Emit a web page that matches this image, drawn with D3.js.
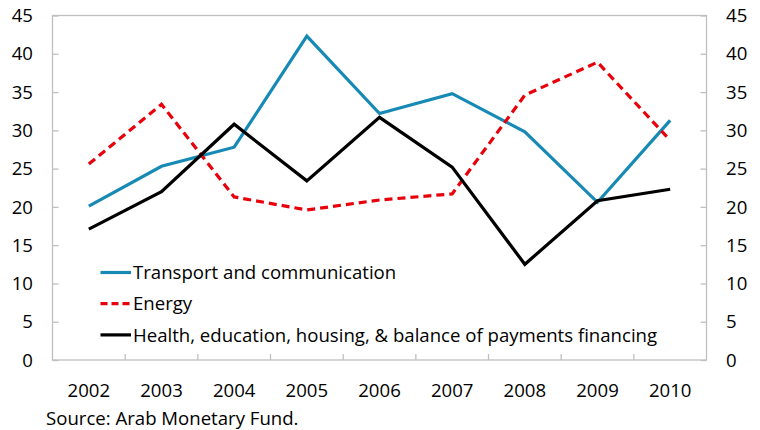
<!DOCTYPE html>
<html>
<head>
<meta charset="utf-8">
<script src="https://cdn.jsdelivr.net/npm/d3@7"></script>
<style>
  body { margin: 0; background: #fff; }
  svg { font-family: "Open Sans", "Noto Sans", sans-serif; }
</style>
</head>
<body>
<svg id="chart" width="760" height="430"></svg>
<script>
const years = ["2002", "2003", "2004", "2005", "2006", "2007", "2008", "2009", "2010"];
const transport = [20.1, 25.3, 27.8, 42.3, 32.2, 34.8, 29.8, 20.6, 31.3];
const energy = [25.6, 33.4, 21.3, 19.6, 20.9, 21.7, 34.6, 38.9, 28.7];
const health = [17.1, 22.0, 30.8, 23.4, 31.7, 25.2, 12.5, 20.8, 22.3];
const yTicks = [0, 5, 10, 15, 20, 25, 30, 35, 40, 45];
const seriesNames = [
  "Transport and communication",
  "Energy",
  "Health, education, housing, & balance of payments financing"
];

const series = [
  { name: seriesNames[0], values: transport, color: "#168ab4", dash: null },
  { name: seriesNames[1], values: energy, color: "#e8000b", dash: "8,5" },
  { name: seriesNames[2], values: health, color: "#000000", dash: null }
];

const svg = d3.select("#chart");
const plot = { left: 52.5, right: 706.5, top: 15.5, bottom: 360 };
const fontSize = 18.6;

const x = d3.scaleBand().domain(years).range([plot.left, plot.right]);
const y = d3.scaleLinear().domain([0, 45]).range([plot.bottom, plot.top]);

const axisColor = "#bfbfbf";

// Plot frame
svg.append("rect")
  .attr("x", plot.left).attr("y", plot.top)
  .attr("width", plot.right - plot.left).attr("height", plot.bottom - plot.top)
  .attr("fill", "none").attr("stroke", axisColor).attr("stroke-width", 1.3);

// Left value axis
const yLeft = svg.append("g").attr("transform", `translate(${plot.left},0)`)
  .call(d3.axisRight(y).tickValues(yTicks).tickSize(6).tickPadding(0).tickFormat(""));
yLeft.select(".domain").remove();
yLeft.selectAll("line").attr("stroke", axisColor).attr("stroke-width", 1.3);

svg.append("g").selectAll("text").data(yTicks).join("text")
  .attr("x", 33).attr("y", d => y(d)).attr("dy", "0.36em")
  .attr("text-anchor", "end").attr("font-size", fontSize).attr("fill", "#000")
  .text(d => d);

// Right value axis
const yRight = svg.append("g").attr("transform", `translate(${plot.right},0)`)
  .call(d3.axisLeft(y).tickValues(yTicks).tickSize(6).tickFormat(""));
yRight.select(".domain").remove();
yRight.selectAll("line").attr("stroke", axisColor).attr("stroke-width", 1.3);

svg.append("g").selectAll("text").data(yTicks).join("text")
  .attr("x", 726).attr("y", d => y(d)).attr("dy", "0.36em")
  .attr("text-anchor", "start").attr("font-size", fontSize).attr("fill", "#000")
  .text(d => d);

// Category axis: tick marks between years
const boundaries = years.slice(1).map(d => x(d));
svg.append("g").selectAll("line").data(boundaries).join("line")
  .attr("x1", d => d).attr("x2", d => d)
  .attr("y1", plot.bottom).attr("y2", plot.bottom - 6)
  .attr("stroke", axisColor).attr("stroke-width", 1.3);

svg.append("g").selectAll("text").data(years).join("text")
  .attr("x", d => x(d) + x.bandwidth() / 2).attr("y", 396.5)
  .attr("text-anchor", "middle").attr("font-size", fontSize).attr("fill", "#000")
  .text(d => d);

// Lines
const line = d3.line()
  .x((d, i) => x(years[i]) + x.bandwidth() / 2)
  .y(d => y(d));

series.forEach(s => {
  svg.append("path")
    .datum(s.values)
    .attr("d", line)
    .attr("fill", "none")
    .attr("stroke", s.color)
    .attr("stroke-width", 3.2)
    .attr("stroke-linejoin", "miter")
    .attr("stroke-dasharray", s.dash);
});

// Legend
const legend = svg.append("g");
series.forEach((s, i) => {
  const ly = 272.5 + i * 31.2;
  legend.append("line")
    .attr("x1", 100.5).attr("x2", 131).attr("y1", ly).attr("y2", ly)
    .attr("stroke", s.color).attr("stroke-width", 3.2)
    .attr("stroke-dasharray", s.dash ? "7,4" : null);
  legend.append("text")
    .attr("x", 133).attr("y", ly).attr("dy", "0.36em")
    .attr("font-size", fontSize).attr("fill", "#000")
    .text(s.name);
});

// Source note
svg.append("text")
  .attr("x", 46).attr("y", 424.5)
  .attr("font-size", fontSize).attr("fill", "#000")
  .text("Source: Arab Monetary Fund.");
</script>
</body>
</html>
